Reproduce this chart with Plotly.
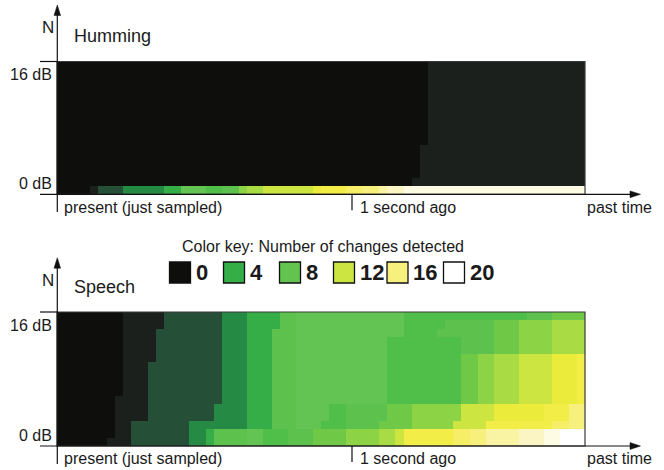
import plotly.graph_objects as go

W, H = 664, 470

# ---------------- data ----------------
# colour for each "number of changes detected" value 0..20
PALETTE = ["#0e0e0c", "#1b201d", "#254f37", "#258a43", "#36ae47", "#50bf49",
           "#5cc24d", "#63c453", "#62c34e", "#70c946", "#8cd446", "#a9dc44",
           "#cde541", "#ebeb3b", "#f3ed47", "#f5ee66", "#f8f07c", "#f9f3a4",
           "#faf5c2", "#fdfbe3", "#ffffff"]

KEY_VALUES = [0, 4, 8, 12, 16, 20]
KEY_TITLE = "Color key: Number of changes detected"
PANEL_TITLES = ["Humming", "Speech"]
Y_LABELS = ["16 dB", "0 dB"]
X_LABELS = ["present (just sampled)", "1 second ago", "past time"]
AXIS_LETTER = "N"

# cell values, one character per time column (base-36 digit), rows listed top -> bottom
HUMMING_ROWS = [
    "000000000000000000000000000000000000000000000" "1111111111111111111",
    "000000000000000000000000000000000000000000000" "1111111111111111111",
    "000000000000000000000000000000000000000000000" "1111111111111111111",
    "000000000000000000000000000000000000000000000" "1111111111111111111",
    "000000000000000000000000000000000000000000000" "1111111111111111111",
    "000000000000000000000000000000000000000000000" "1111111111111111111",
    "000000000000000000000000000000000000000000000" "1111111111111111111",
    "000000000000000000000000000000000000000000000" "1111111111111111111",
    "000000000000000000000000000000000000000000000" "1111111111111111111",
    "000000000000000000000000000000000000000000000" "1111111111111111111",
    "00000000000000000000000000000000000000000000" "11111111111111111111",
    "00000000000000000000000000000000000000000000" "11111111111111111111",
    "00000000000000000000000000000000000000000000" "11111111111111111111",
    "00000000000000000000000000000000000000000000" "11111111111111111111",
    "0000000000000000000000000000000000000000000" "111111111111111111111",
    "0000" "1" "222" "33333" "44" "777" "55" "66" "a" "bb" "cccccc" "d" "eee" "ff" "gg" "h" "ii"
    "jjjjjjjjjjjjjjjjjjjjjj",
]

SPEECH_ROWS = [
    "00000000" "11111" "2222222" "333" "4444" "66" "7777777777777" "555555555555555" "666" "9999",
    "00000000" "11111" "2222222" "333" "4444" "66" "7777777777777" "55555" "666666" "999" "aaaa" "bbbb",
    "00000000" "1111" "22222222" "333" "444" "666" "7777777777777" "5555" "6666666" "999" "aaaa" "bbbb",
    "00000000" "1111" "22222222" "333" "444" "666" "77777777777" "555555555" "6666" "999" "aaaa" "bbbb",
    "00000000" "1111" "22222222" "333" "444" "666" "77777777777" "555555555" "6666" "999" "aaaa" "bbbb",
    "00000000" "1111" "22222222" "333" "444" "666" "77777777777" "555555555" "99" "aa" "bbb" "cccc" "ddd" "e",
    "00000000" "111" "222222222" "333" "444" "666" "77777777777" "555555555" "99" "aa" "bbb" "cccc" "ddd" "e",
    "00000000" "111" "222222222" "333" "444" "666" "77777777777" "555555555" "99" "aa" "bbb" "cccc" "ddd" "e",
    "00000000" "111" "222222222" "333" "444" "666" "77777777777" "555555555" "99" "aa" "bbb" "cccc" "ddd" "e",
    "00000000" "111" "222222222" "333" "444" "666" "77777777777" "555555555" "99" "aa" "bbb" "cccc" "ddd" "e",
    "0000000" "1111" "222222222" "333" "444" "666" "77777777777" "555555555" "99" "aa" "bbb" "cccc" "ddd" "e",
    "0000000" "1111" "22222222" "3333" "444" "666" "7777" "55" "66666" "999" "aaaaaa" "cccc" "dddddd" "eee" "gg",
    "0000000" "1111" "22222222" "3333" "444" "666" "7777" "55" "66666" "999" "aaaaaa" "cccc" "dddddd" "eee" "gg",
    "0000000" "11" "2222222" "3333333" "444" "666" "777" "555" "6666" "9999" "aaaaa" "cccc" "eeeeeeee" "ff" "gg",
    "0000000" "11" "2222222" "33" "4" "6666" "77" "555" "666" "9999" "aaaa" "bb" "c" "eeeeee" "ff" "gg" "hhhh" "iii" "jj" "kkk",
    "000000" "111" "2222222" "33" "4" "6666" "77" "555" "666" "9999" "aaaa" "bb" "c" "eeeeee" "ff" "gg" "hhhh" "iii" "jj" "kkk",
]

for r in HUMMING_ROWS + SPEECH_ROWS:
    assert len(r) == 64, (len(r), r)

# ---------------- helpers ----------------
def X(px):
    return px / W


def Y(py):
    return 1 - py / H


ARIAL = "Liberation Sans, Arial, Helvetica, sans-serif"
INK = "#1a1a1a"

n = len(PALETTE)
colorscale = []
for k, c in enumerate(PALETTE):
    colorscale.append([k / n, c])
    colorscale.append([(k + 1) / n, c])


def decode(rows):
    return [[int(ch, 36) for ch in row] for row in reversed(rows)]


fig = go.Figure()

# panel geometry in pixels: (top, bottom)
PANELS = [(61.5, 194.3), (312.0, 446.0)]
LEFT, RIGHT = 57.0, 585.0

for i, (rows, (top, bot)) in enumerate(zip([HUMMING_ROWS, SPEECH_ROWS], PANELS)):
    z = decode(rows)
    suffix = "" if i == 0 else str(i + 1)
    fig.add_trace(go.Heatmap(
        z=z, x=list(range(len(z[0]))), y=list(range(len(z))),
        colorscale=colorscale, zmin=-0.5, zmax=n - 0.5,
        showscale=False, hoverinfo="skip",
        xaxis="x" + suffix, yaxis="y" + suffix,
    ))
    fig.layout["xaxis" + suffix] = dict(domain=[X(LEFT), X(RIGHT)], range=[-0.5, 63.5],
                                        visible=False, fixedrange=True,
                                        anchor="y" + suffix)
    fig.layout["yaxis" + suffix] = dict(domain=[Y(bot), Y(top)], range=[-0.5, len(z) - 0.5],
                                        visible=False, fixedrange=True,
                                        anchor="x" + suffix)

shapes = []
annotations = []


def line(x0, y0, x1, y1, color="#111111", width=1.2):
    shapes.append(dict(type="line", xref="paper", yref="paper",
                       x0=X(x0), y0=Y(y0), x1=X(x1), y1=Y(y1),
                       line=dict(color=color, width=width)))


def tri(pts, color="#111111"):
    path = "M " + " L ".join(f"{X(a):.5f},{Y(b):.5f}" for a, b in pts) + " Z"
    shapes.append(dict(type="path", xref="paper", yref="paper", path=path,
                       fillcolor=color, line=dict(color=color, width=0.5)))


def text(t, x, y, xanchor="left", size=16, family=ARIAL, color=INK):
    annotations.append(dict(text=t, x=X(x), y=Y(y), xref="paper", yref="paper",
                            xanchor=xanchor, yanchor="middle", showarrow=False,
                            font=dict(family=family, size=size, color=color)))


ARROW_TOP = [5.0, 257.7]
PRESENT_END = [212.0, 464.0]
SEC_X = 352.0

for i, (top, bot) in enumerate(PANELS):
    # frame around the map
    shapes.append(dict(type="rect", xref="paper", yref="paper",
                       x0=X(LEFT), x1=X(RIGHT), y0=Y(bot), y1=Y(top),
                       line=dict(color="#3a3a3a", width=1.2)))
    tip = ARROW_TOP[i]
    # vertical axis with arrow
    line(57.3, tip + 9, 57.3, PRESENT_END[i])
    tri([(57.3, tip), (54.0, tip + 10.5), (60.6, tip + 10.5)])
    # top tick
    line(40, top, 57.3, top)
    # horizontal axis with arrow
    line(40, bot, 632, bot)
    tri([(640.5, bot), (630.0, bot - 3.4), (630.0, bot + 3.4)])
    # 1 second tick
    line(SEC_X, bot, SEC_X, bot + 16)

    # texts
    text(AXIS_LETTER, 47.5, tip + 23, xanchor="center", size=17)
    text(PANEL_TITLES[i], 71.5, top - 25.5, size=18)
    text(Y_LABELS[0], 53.5, top + 13, xanchor="right")
    text(Y_LABELS[1], 53.5, bot - 10.5, xanchor="right")
    text(X_LABELS[0], 61.5, bot + 12.7)
    text(X_LABELS[1], 357.5, bot + 12.7)
    text(X_LABELS[2], 584.5, bot + 12.7)

# colour key
text(KEY_TITLE, 323.3, 246.3, xanchor="center")
KEY_LEFTS = [169.5, 223.5, 279.5, 333.5, 387.0, 443.5]
for v, xl in zip(KEY_VALUES, KEY_LEFTS):
    shapes.append(dict(type="rect", xref="paper", yref="paper",
                       x0=X(xl), x1=X(xl + 21), y0=Y(283), y1=Y(262),
                       fillcolor=PALETTE[v], line=dict(color="#111111", width=1.3)))
    text(f"<b>{v}</b>", xl + 24.0, 272.8, size=22)

fig.update_layout(
    width=W, height=H, autosize=False,
    margin=dict(l=0, r=0, t=0, b=0),
    paper_bgcolor="white", plot_bgcolor="white",
    shapes=shapes, annotations=annotations,
    showlegend=False,
)

fig.write_html("out.html", config={"displayModeBar": False},
               post_script="document.body.style.margin='0px';")
